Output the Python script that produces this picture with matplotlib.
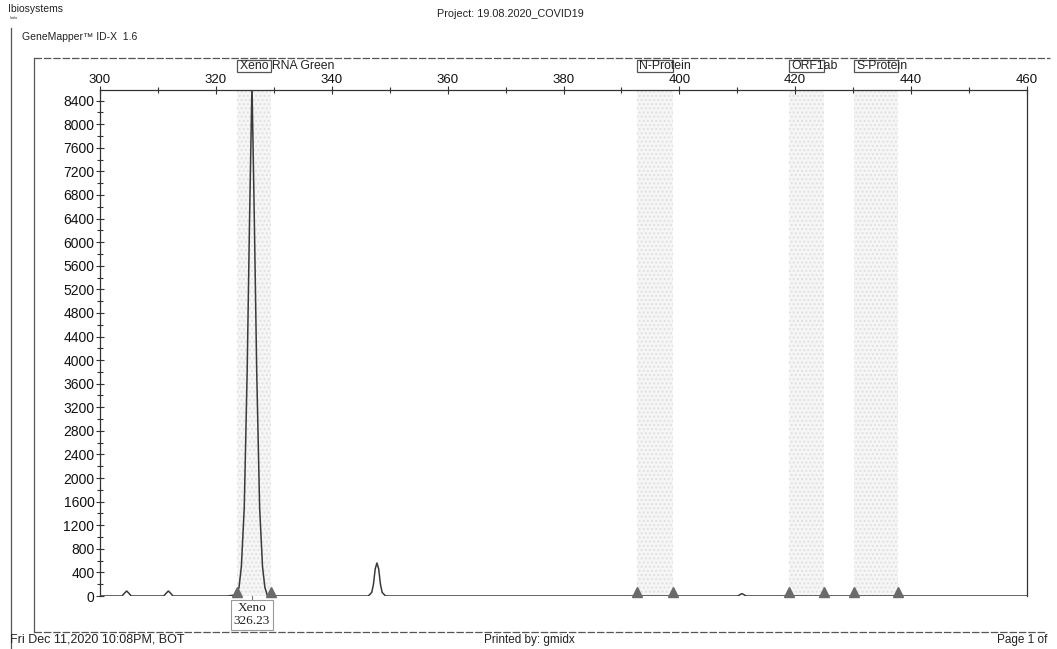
import matplotlib
matplotlib.use('Agg')
import matplotlib.pyplot as plt
from matplotlib.patches import Rectangle
from matplotlib.lines import Line2D
import matplotlib.transforms as mtransforms

plt.rcParams['font.family'] = ['Liberation Sans', 'DejaVu Sans']

W, H = 1057, 649

# electropherogram trace (size in bp, RFU)
trace_x = [300, 303.8, 304.2, 304.6, 305.0, 305.4, 311.0, 311.4, 311.8, 312.2, 312.6,
           322.0, 323.6, 324.0, 324.4, 324.9, 325.4, 325.8, 326.23, 326.65, 327.05,
           327.55, 328.05, 328.45, 328.9, 346.3, 346.9, 347.2, 347.5, 347.8, 348.1,
           348.4, 348.7, 349.3, 410.1, 410.5, 410.8, 411.1, 411.5, 460]
trace_y = [0, 0, 45, 85, 45, 0, 0, 45, 85, 45, 0,
           0, 20, 150, 500, 1500, 3800, 6300, 8700, 6300, 3800,
           1500, 500, 150, 0, 0, 60, 200, 460, 560, 460,
           200, 60, 0, 0, 25, 40, 25, 0, 0]

# bins (marker panel)
bin_labels = ['Xeno RNA Green', 'N-Protein', 'ORF1ab', 'S-Protein']
bin_start = [323.7, 392.7, 418.9, 430.2]
bin_end = [329.5, 398.9, 425.0, 437.8]

peak_name = 'Xeno'
peak_size = 326.23

xticks = list(range(300, 461, 20))
yticks = list(range(0, 8401, 400))

fig = plt.figure(figsize=(W / 100, H / 100), dpi=100)
ax = fig.add_axes([100 / W, 1 - 596 / H, 927 / W, 506 / H])
ax.set_xlim(300, 460)
ax.set_ylim(0, 8580)

# shaded bins
for s, e in zip(bin_start, bin_end):
    ax.axvspan(s, e, facecolor='#f6f6f6', edgecolor='#e0e0e0', hatch='....',
               lw=0, zorder=0)

ax.plot(trace_x, trace_y, color='#3a3a3a', lw=1.1, zorder=3)

# bin edge markers sitting on the baseline
tri_tr = mtransforms.offset_copy(ax.transData, fig=fig, y=3.2, units='points')
edges = bin_start + bin_end
ax.plot(edges, [0] * len(edges), ls='none', marker='^', ms=6.5, color='#6a6a6a',
        transform=tri_tr, zorder=4, clip_on=False)

# bin label boxes above the plot
bt = mtransforms.blended_transform_factory(ax.transData, ax.transAxes)
for s, e, lab in zip(bin_start, bin_end, bin_labels):
    ax.add_patch(Rectangle((s, 1.035), e - s, 0.024, transform=bt, fill=False,
                           edgecolor='#555555', lw=0.9, clip_on=False))
    ax.text(s + 0.4, 1.047, lab, transform=bt, fontsize=8.8, va='center',
            ha='left', color='#222222', clip_on=False)

# peak label
ax.add_line(Line2D([peak_size, peak_size], [0, -0.012], transform=bt,
                   color='#777777', lw=0.8, clip_on=False))
ax.text(peak_size, -0.037, f'{peak_name}\n{peak_size:.2f}', transform=bt,
        ha='center', va='center', fontsize=9.5, family='Liberation Serif',
        linespacing=1.05, color='#222222',
        bbox=dict(boxstyle='square,pad=0.2', fc='white', ec='#999999', lw=0.8))

# axes styling
ax.xaxis.tick_top()
ax.set_xticks(xticks)
ax.set_xticks(list(range(310, 460, 20)), minor=True)
ax.set_yticks(yticks)
ax.set_yticks(list(range(200, 8580, 400)), minor=True)
ax.tick_params(axis='both', which='major', direction='inout', length=6,
               width=0.8, colors='#333333')
ax.tick_params(axis='both', which='minor', direction='inout', length=5,
               width=0.8, colors='#333333')
ax.tick_params(axis='x', which='major', pad=0, labelsize=9.5, labelcolor='#111111')
ax.tick_params(axis='y', which='major', pad=1, labelsize=10, labelcolor='#111111')
for sp in ax.spines.values():
    sp.set_color('#333333')
    sp.set_linewidth(0.9)
ax.spines['bottom'].set_visible(False)
ax.patch.set_alpha(0)

# page frame
def fline(x0, y0, x1, y1, **kw):
    fig.add_artist(Line2D([x0 / W, x1 / W], [1 - y0 / H, 1 - y1 / H],
                          transform=fig.transFigure, color='#555555', lw=0.9, **kw))

fline(34, 58, 1050, 58, ls=(0, (6, 1.5)))
fline(34, 58, 34, 632)
fline(34, 632, 1046, 632, ls=(0, (6, 1.5)))
fline(11, 28, 11, 649)

# header and footer texts
def ftext(x, y, s, **kw):
    fig.text(x / W, 1 - y / H, s, va='center', color='#222222', **kw)

ftext(8, 9, 'Ibiosystems', fontsize=7.5)
ftext(10, 18, 'lmxlo', fontsize=2.5)
ftext(22, 37, 'GeneMapper\u2122 ID-X  1.6', fontsize=7.5)
ftext(437, 14, 'Project: 19.08.2020_COVID19', fontsize=7.8)
ftext(10, 640, 'Fri Dec 11,2020 10:08PM, BOT', fontsize=9)
ftext(484, 640, 'Printed by: gmidx', fontsize=8.5)
ftext(1047, 640, 'Page 1 of', fontsize=8.5, ha='right')

fig.savefig('out.png', dpi=100)
